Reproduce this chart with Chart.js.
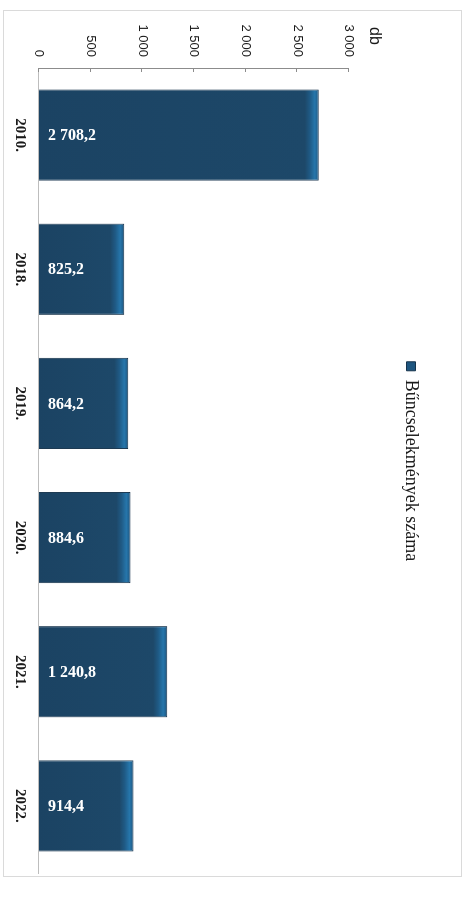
<!DOCTYPE html>
<html lang="hu">
<head>
<meta charset="utf-8">
<script src="https://cdn.jsdelivr.net/npm/chart.js@4.4.1/dist/chart.umd.min.js"></script>
<style>
    html, body { margin: 0; padding: 0; background: #fff; overflow: hidden; }
    /* a diagram fekvő, 90 fokkal elforgatva jelenik meg */
    #wrap {
        position: absolute; left: 0; top: 0;
        width: 906px; height: 474px;
        transform-origin: 0 0;
        transform: translate(474px, 0) rotate(90deg);
    }
</style>
</head>
<body>
<div id="wrap"><canvas id="chartBunc" width="906" height="474"></canvas></div>
<script>
const EVEK = ['2010.', '2018.', '2019.', '2020.', '2021.', '2022.'];
const BUNCSELEKMENYEK = [2708.2, 825.2, 864.2, 884.6, 1240.8, 914.4];
const SOROZAT_NEV = 'Bűncselekmények száma';
const Y_MIN = 0;
const Y_MAX = 3000;
const Y_LEPES = 500;
const MERTEKEGYSEG = 'db';

const SZINEK = {
    oszlop: '#1c4667',
    oszlopVeg: '#2676ab',
    keret: '#16334c',
    tengely: '#8c8c8c',
    kategoriaTengely: '#bdbdbd',
    szoveg: '#1a1a1a',
    racs: '#dadada'
};

// ezres tagolás szóközzel, tizedesvesszővel
function formatSzam(v, tizedes) {
    const s = v.toFixed(tizedes).split('.');
    s[0] = s[0].replace(/\B(?=(\d{3})+(?!\d))/g, ' ');
    return s.join(',');
}

function oszlopSzin(c) {
    const chart = c.chart;
    const { ctx, chartArea, scales } = chart;
    if (!chartArea || c.raw == null) return SZINEK.oszlop;
    const yTop = scales.y.getPixelForValue(c.raw);
    const yAlap = scales.y.getPixelForValue(0);
    const hossz = yAlap - yTop;
    if (hossz < 20) return SZINEK.oszlop;
    const g = ctx.createLinearGradient(0, yAlap, 0, yTop);
    g.addColorStop(0, '#1b4363');
    g.addColorStop(1 - 14 / hossz, '#1d4869');
    g.addColorStop(1 - 9 / hossz, '#1f5a85');
    g.addColorStop(1 - 4 / hossz, SZINEK.oszlopVeg);
    g.addColorStop(1, '#1e5680');
    return g;
}

// keret, "db" felirat, belső osztásjelek, értékcímkék
const rajzPlugin = {
    id: 'rajzPlugin',
    beforeLayout(chart) {
        if (chart.legend && !chart.legend._fixed) {
            const eredeti = chart.legend.fit;
            chart.legend.fit = function () {
                eredeti.call(this);
                this.height = 111;
            };
            chart.legend._fixed = true;
        }
    },
    afterLayout(chart) {
        // jelmagyarázat kicsit jobbra, a rajzterület közepe felé
        if (chart.legend) chart.legend.left = 50;
    },
    beforeDraw(chart) {
        const ctx = chart.ctx;
        ctx.save();
        ctx.strokeStyle = SZINEK.racs;
        ctx.lineWidth = 1;
        ctx.strokeRect(10.5, 12.5, 866, 458);
        ctx.restore();
    },
    afterDraw(chart) {
        const ctx = chart.ctx;
        const y = chart.scales.y;
        const area = chart.chartArea;
        ctx.save();
        // belső osztásjelek az értéktengelyen
        ctx.strokeStyle = SZINEK.tengely;
        ctx.lineWidth = 1;
        y.ticks.forEach(t => {
            const py = Math.round(y.getPixelForValue(t.value)) + 0.5;
            ctx.beginPath();
            ctx.moveTo(area.left, py);
            ctx.lineTo(area.left + 4, py);
            ctx.stroke();
        });
        // mértékegység
        ctx.fillStyle = SZINEK.szoveg;
        ctx.font = '16px "Liberation Sans", Arial, sans-serif';
        ctx.textAlign = 'left';
        ctx.textBaseline = 'middle';
        ctx.fillText(MERTEKEGYSEG, 27, y.getPixelForValue(Y_MAX) - 25);
        // értékcímkék az oszlopok alján (a kész képen vízszintesen olvashatók)
        const meta = chart.getDatasetMeta(0);
        ctx.fillStyle = '#ffffff';
        ctx.font = 'bold 16px "Liberation Serif", "Times New Roman", serif';
        ctx.textAlign = 'left';
        ctx.textBaseline = 'middle';
        meta.data.forEach((bar, i) => {
            const szoveg = formatSzam(BUNCSELEKMENYEK[i], 1);
            ctx.save();
            ctx.translate(bar.x + 1, bar.base - 9);
            ctx.rotate(-Math.PI / 2);
            ctx.fillText(szoveg, 0, 0);
            ctx.restore();
        });
        ctx.restore();
    }
};

function criarGrafico() {
    const ctx = document.getElementById('chartBunc').getContext('2d');
    return new Chart(ctx, {
        type: 'bar',
        data: {
            labels: EVEK,
            datasets: [{
                label: SOROZAT_NEV,
                data: BUNCSELEKMENYEK,
                backgroundColor: oszlopSzin,
                borderColor: SZINEK.keret,
                borderWidth: 1,
                borderSkipped: 'bottom',
                barPercentage: 0.68,
                categoryPercentage: 1
            }]
        },
        options: {
            responsive: false,
            animation: false,
            devicePixelRatio: 1,
            layout: { padding: { left: 10, right: 33, top: 14, bottom: 9 } },
            plugins: {
                legend: {
                    display: true,
                    position: 'top',
                    labels: {
                        boxWidth: 9,
                        boxHeight: 9,
                        padding: 40,
                        color: SZINEK.szoveg,
                        font: { family: '"Liberation Serif", "Times New Roman", serif', size: 18 }
                    }
                },
                tooltip: { enabled: false }
            },
            scales: {
                x: {
                    grid: { display: false },
                    border: { display: true, color: SZINEK.kategoriaTengely, width: 1 },
                    ticks: {
                        padding: 2,
                        color: SZINEK.szoveg,
                        font: { family: '"Liberation Serif", "Times New Roman", serif', size: 15, weight: 'bold' }
                    },
                    afterFit: (s) => { s.height = 30; }
                },
                y: {
                    min: Y_MIN,
                    max: Y_MAX,
                    grid: { display: false },
                    border: { display: true, color: SZINEK.tengely, width: 1 },
                    ticks: {
                        stepSize: Y_LEPES,
                        padding: 3,
                        color: SZINEK.szoveg,
                        font: { family: '"Liberation Sans", Arial, sans-serif', size: 13 },
                        callback: (v) => formatSzam(v, 0)
                    },
                    afterFit: (s) => { s.width = 58; }
                }
            }
        },
        plugins: [rajzPlugin]
    });
}

criarGrafico();
</script>
</body>
</html>
